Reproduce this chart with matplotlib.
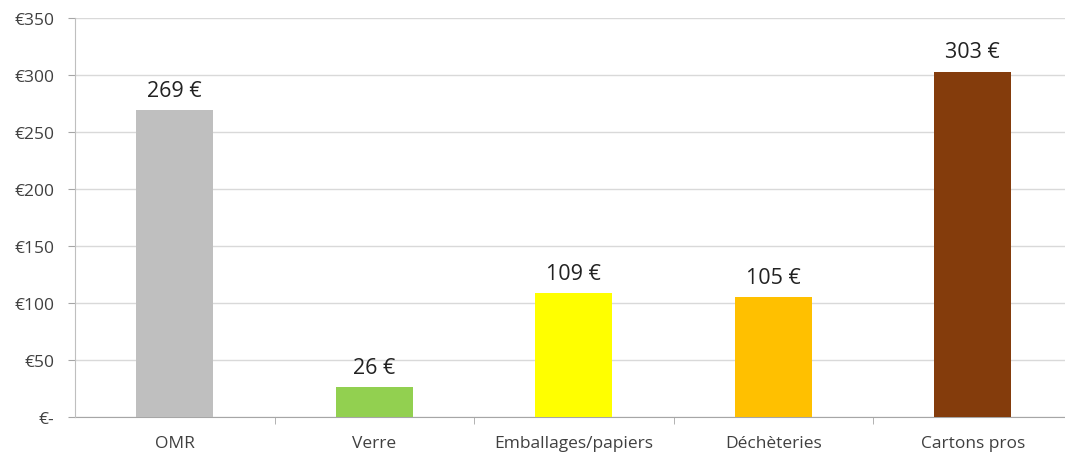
import matplotlib
matplotlib.use("Agg")
import matplotlib.pyplot as plt
from matplotlib.ticker import FixedLocator

categories = ["OMR", "Verre", "Emballages/papiers", "Déchèteries", "Cartons pros"]
values = [269, 26, 109, 105, 303]
colors = ["#BFBFBF", "#92D050", "#FFFF00", "#FFC000", "#843C0C"]
yticks = [0, 50, 100, 150, 200, 250, 300, 350]
ytick_labels = ["€-", "€50", "€100", "€150", "€200", "€250", "€300", "€350"]

plt.rcParams['font.family'] = ['Open Sans', 'DejaVu Sans']

W, H = 1065, 460
fig = plt.figure(figsize=(W / 100, H / 100), dpi=100)
left, right, top, bottom = 75, 1065, 19, 418
ax = fig.add_axes([left / W, 1 - bottom / H, (right - left) / W, (bottom - top) / H])

cat_w = 199.5
x = list(range(len(categories)))
ax.bar(x, values, width=0.386, color=colors, zorder=3)
for xi, v in zip(x, values):
    ax.text(xi, v + 8, f"{v} €", ha="center", va="bottom", fontsize=15.5, color="#222222")

ax.set_xlim(-0.5, -0.5 + (right - left) / cat_w)
ax.set_ylim(0, 350)
ax.set_yticks(yticks)
ax.set_yticklabels(ytick_labels, fontsize=12.5, color="#404040")
ax.set_xticks(x)
ax.set_xticklabels(categories, fontsize=12.5, color="#404040")
ax.tick_params(axis="x", length=0, pad=13)
ax.xaxis.set_minor_locator(FixedLocator([0.5, 1.5, 2.5, 3.5]))
ax.tick_params(axis="x", which="minor", length=5, color="#A6A6A6", direction="out")
ax.tick_params(axis="y", length=5, color="#A6A6A6", pad=10)
ax.yaxis.grid(True, color="#D9D9D9", linewidth=1, zorder=0)
for s in ["top", "right"]:
    ax.spines[s].set_visible(False)
ax.spines["left"].set_color("#BFBFBF")
ax.spines["bottom"].set_color("#A6A6A6")
ax.spines["left"].set_zorder(4)

fig.savefig("out.png", dpi=100)
